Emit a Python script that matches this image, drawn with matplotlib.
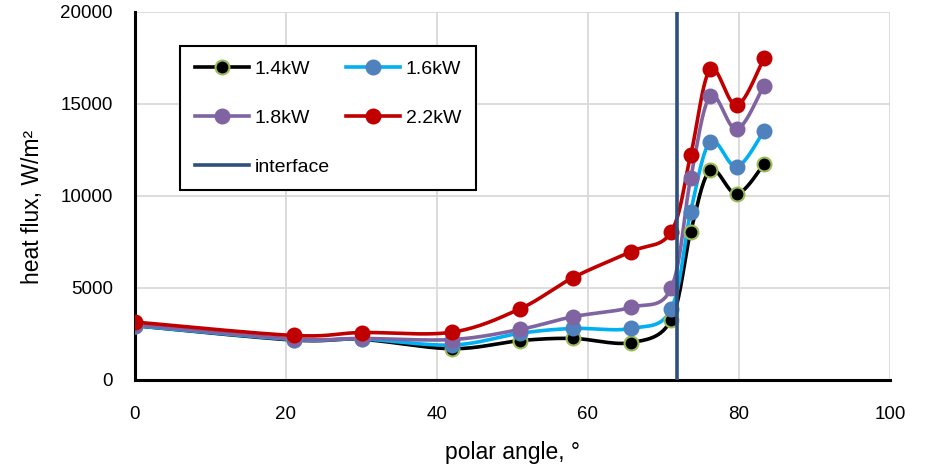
import numpy as np
import matplotlib.pyplot as plt
from matplotlib.lines import Line2D

plt.rcParams['font.family'] = ['Liberation Sans', 'DejaVu Sans']

# polar angle of each measuring point, degrees
angle = [0, 21, 30, 42, 51, 58, 65.7, 71, 73.6, 76.2, 79.7, 83.3]
interface_angle = 71.8

flux_14 = [2950, 2170, 2210, 1700, 2140, 2260, 2030, 3260, 8060, 11410, 10110, 11720]
flux_16 = [2950, 2200, 2230, 1900, 2540, 2800, 2800, 3840, 9150, 12950, 11590, 13530]
flux_18 = [3000, 2230, 2260, 2200, 2750, 3440, 3950, 4980, 10960, 15430, 13620, 16000]
flux_22 = [3150, 2420, 2580, 2600, 3870, 5560, 6980, 8040, 12230, 16890, 14920, 17480]


def smooth(x, y, n=30):
    # bezier smoothing through every point (same idea as spreadsheet "smoothed line")
    x = np.asarray(x, float)
    y = np.asarray(y, float)
    px, py = [x[0]], [y[0]]
    t = np.linspace(0, 1, n)[1:]
    for i in range(len(x) - 1):
        i0 = max(i - 1, 0)
        i3 = min(i + 2, len(x) - 1)
        c1x = x[i] + (x[i + 1] - x[i0]) / 6
        c1y = y[i] + (y[i + 1] - y[i0]) / 6
        c2x = x[i + 1] - (x[i3] - x[i]) / 6
        c2y = y[i + 1] - (y[i3] - y[i]) / 6
        bx = (1 - t) ** 3 * x[i] + 3 * (1 - t) ** 2 * t * c1x + 3 * (1 - t) * t ** 2 * c2x + t ** 3 * x[i + 1]
        by = (1 - t) ** 3 * y[i] + 3 * (1 - t) ** 2 * t * c1y + 3 * (1 - t) * t ** 2 * c2y + t ** 3 * y[i + 1]
        px.extend(bx)
        py.extend(by)
    return px, py


series = [
    ('1.4kW', flux_14, 'black', 'black', '#9BBB59'),
    ('1.6kW', flux_16, '#00B0F0', '#4F81BD', '#4F81BD'),
    ('1.8kW', flux_18, '#8064A2', '#8064A2', '#8064A2'),
    ('2.2kW', flux_22, '#C00000', '#C00000', '#C00000'),
]

fig = plt.figure(figsize=(9.25, 4.68), dpi=100)
ax = fig.add_axes([135 / 925, 1 - 380 / 468, 755 / 925, 368 / 468])

handles = {}
for name, vals, lc, mfc, mec in series:
    sx, sy = smooth(angle, vals)
    ax.plot(sx, sy, color=lc, lw=2.6, zorder=3)
    ax.plot(angle, vals, ls='none', marker='o', ms=10, mfc=mfc, mec=mec, mew=1.5, zorder=4)
    handles[name] = Line2D([], [], color=lc, lw=2.6, marker='o', ms=10, mfc=mfc, mec=mec, mew=1.5)

ax.axvline(interface_angle, color='#2F4F7F', lw=2.6, zorder=5)
handles['interface'] = Line2D([], [], color='#2F4F7F', lw=2.6)

ax.set_xlim(0, 100)
ax.set_ylim(0, 20000)
ax.set_xticks(range(0, 101, 20))
ax.set_yticks(range(0, 20001, 5000))
ax.grid(True, color='#D9D9D9', lw=1.3)
ax.set_axisbelow(True)
ax.tick_params(length=0, labelsize=13.5)
ax.tick_params(axis='x', pad=19)
ax.tick_params(axis='y', pad=16)
for s in ['top', 'right']:
    ax.spines[s].set_visible(False)
for s in ['left', 'bottom']:
    ax.spines[s].set_linewidth(2.2)
    ax.spines[s].set_color('black')

ax.set_xlabel('polar angle, °', fontsize=16.5)
ax.set_ylabel('heat flux, W/m²', fontsize=16.5)
ax.xaxis.set_label_coords(0.5, -0.166)
ax.yaxis.set_label_coords(-0.12, 0.47)

order = ['1.4kW', '1.8kW', 'interface', '1.6kW', '2.2kW']
leg = ax.legend([handles[k] for k in order], order, ncol=2, loc='upper left',
                bbox_to_anchor=(0.0596, 0.9076), borderaxespad=0, fontsize=14,
                frameon=True, fancybox=False, edgecolor='black', handlelength=2.8,
                handletextpad=0.3, labelspacing=1.6, columnspacing=0.8,
                borderpad=0.75, framealpha=1)
leg.get_frame().set_linewidth(1.5)

fig.savefig('out.png', dpi=100)
